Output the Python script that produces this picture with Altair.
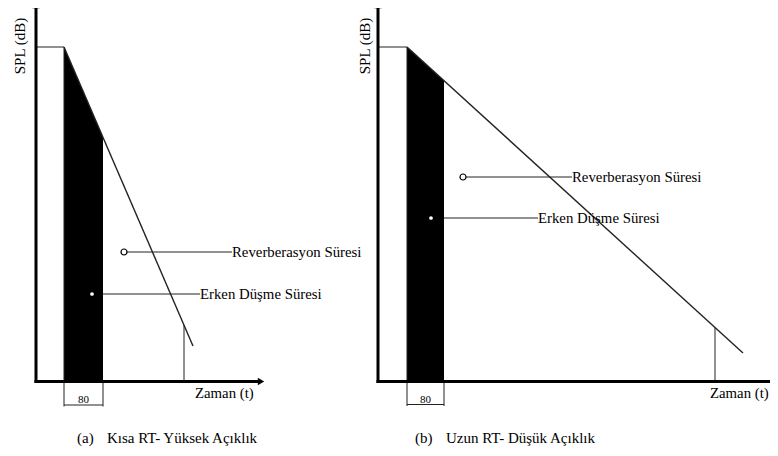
import altair as alt
import pandas as pd

# ---- Diagram values (two panels: (a) and (b)) ----
panel = ["a", "b"]
axis_x0 = [36, 378]          # SPL axis position (t = 0)
axis_y0 = [381.5, 381.5]     # time axis position
axis_top = [7, 7]
axis_right = [258, 772]
start_x = [64, 407]          # end of steady state / start of decay
level_y = [47, 47]           # steady-state SPL level
edt_x = [103, 444]           # end of the 80 ms early-decay window
edt_y = [137, 80.7]
decay_end_x = [193, 743]
decay_end_y = [346, 353]
rt_x = [184, 715]
rt_y = [325, 327.6]
rt_marker_x = [124, 463]
rt_marker_y = [252, 177]
rt_label_x = [232, 572]
edt_marker_x = [92, 431]
edt_marker_y = [294, 218]
edt_label_x = [200, 538]
dim_y = [405, 404.5]
zaman_x = [195, 710]
spl_label_x = [20, 365]
caption_tag_x = [77, 415]
caption_x = [107, 446]
caption_tags = ["(a)", "(b)"]
captions = ["Kısa RT- Yüksek Açıklık", "Uzun RT- Düşük Açıklık"]
rt_text = "Reverberasyon Süresi"
edt_text = "Erken Düşme Süresi"
time_text = "Zaman (t)"
spl_text = "SPL (dB)"
window_text = "80"

FONT = "Liberation Serif"
X = alt.Scale(domain=[8, 770])
Y = alt.Scale(domain=[8, 448], reverse=True)

thick, thin = [], []
for i in range(2):
    thick.append(dict(x=axis_x0[i], y=axis_top[i], x2=axis_x0[i], y2=axis_y0[i] + 1.5))
    thick.append(dict(x=axis_x0[i] - 1.5, y=axis_y0[i], x2=axis_right[i], y2=axis_y0[i]))
    thin += [
        dict(x=axis_x0[i], y=level_y[i], x2=start_x[i], y2=level_y[i]),
        dict(x=start_x[i], y=level_y[i], x2=start_x[i], y2=axis_y0[i]),
        dict(x=rt_x[i], y=rt_y[i], x2=rt_x[i], y2=axis_y0[i]),
        dict(x=rt_marker_x[i] + 3, y=rt_marker_y[i], x2=rt_label_x[i], y2=rt_marker_y[i]),
        dict(x=edt_x[i], y=edt_marker_y[i], x2=edt_label_x[i], y2=edt_marker_y[i]),
        dict(x=start_x[i], y=axis_y0[i], x2=start_x[i], y2=dim_y[i] + 1.5),
        dict(x=edt_x[i], y=axis_y0[i], x2=edt_x[i], y2=dim_y[i] + 1.5),
        dict(x=start_x[i], y=dim_y[i], x2=edt_x[i], y2=dim_y[i]),
    ]
decay = [dict(x=start_x[i], y=level_y[i], x2=decay_end_x[i], y2=decay_end_y[i]) for i in range(2)]

thick_df = pd.DataFrame(thick)
thin_df = pd.DataFrame(thin)
decay_df = pd.DataFrame(decay)

area_df = pd.DataFrame(
    [dict(panel=panel[i], x=start_x[i], y=level_y[i], y2=axis_y0[i]) for i in range(2)]
    + [dict(panel=panel[i], x=edt_x[i], y=edt_y[i], y2=axis_y0[i]) for i in range(2)]
)

up_df = pd.DataFrame(dict(x=axis_x0, y=[5, 5]))
right_df = pd.DataFrame(dict(x=[261], y=[axis_y0[0]]))
open_df = pd.DataFrame(dict(x=rt_marker_x, y=rt_marker_y))
dot_df = pd.DataFrame(dict(x=edt_marker_x, y=edt_marker_y))

label_df = pd.DataFrame(
    [dict(x=rt_label_x[i], y=rt_marker_y[i] + 5, t=rt_text) for i in range(2)]
    + [dict(x=edt_label_x[i], y=edt_marker_y[i] + 5, t=edt_text) for i in range(2)]
    + [dict(x=zaman_x[i], y=398, t=time_text) for i in range(2)]
)
win_df = pd.DataFrame(dict(x=[(start_x[i] + edt_x[i]) / 2 for i in range(2)], y=[403, 403], t=[window_text] * 2))
spl_df = pd.DataFrame(dict(x=spl_label_x, y=[46, 46], t=[spl_text] * 2))
cap_df = pd.DataFrame(
    [dict(x=caption_tag_x[i], y=443, t=caption_tags[i]) for i in range(2)]
    + [dict(x=caption_x[i], y=443, t=captions[i]) for i in range(2)]
)

def seg(df, width, color="black"):
    return alt.Chart(df).mark_rule(strokeWidth=width, color=color, strokeCap="butt").encode(
        x=alt.X("x:Q", scale=X, axis=None), y=alt.Y("y:Q", scale=Y, axis=None),
        x2="x2:Q", y2="y2:Q")

def txt(df, size, align="left", baseline="alphabetic", angle=0):
    return alt.Chart(df).mark_text(font=FONT, fontSize=size, align=align, baseline=baseline,
                                   angle=angle).encode(
        x=alt.X("x:Q", scale=X, axis=None), y=alt.Y("y:Q", scale=Y, axis=None),
        text="t:N", color=alt.value("black"))

def pos(c):
    return c.encode(x=alt.X("x:Q", scale=X, axis=None), y=alt.Y("y:Q", scale=Y, axis=None))

area = alt.Chart(area_df).mark_area(color="black", opacity=1).encode(
    x=alt.X("x:Q", scale=X, axis=None), y=alt.Y("y:Q", scale=Y, axis=None), y2="y2:Q",
    detail="panel:N")

layers = [
    area,
    seg(thin_df, 1, "#222"),
    seg(decay_df, 1.4, "#222"),
    seg(thick_df, 3),
    pos(alt.Chart(up_df).mark_point(shape="triangle-up", size=55, filled=True, color="black", opacity=1)),
    pos(alt.Chart(right_df).mark_point(shape="triangle-right", size=55, filled=True, color="black", opacity=1)),
    pos(alt.Chart(open_df).mark_point(shape="circle", size=36, fill="white", stroke="black",
                                      strokeWidth=1.2, fillOpacity=1, strokeOpacity=1)),
    pos(alt.Chart(dot_df).mark_circle(size=14, color="white", opacity=1)),
    txt(label_df, 14.8),
    txt(win_df, 11, align="center"),
    txt(spl_df, 15, align="center", baseline="middle", angle=270),
    txt(cap_df, 15),
]

chart = alt.layer(*layers).properties(
    width=762, height=440, padding=0, autosize=alt.AutoSizeParams(type="none")
).configure(font=FONT).configure_text(font=FONT).configure_view(stroke=None)

chart.save("out.html", embed_options={"renderer": "svg", "actions": False})
